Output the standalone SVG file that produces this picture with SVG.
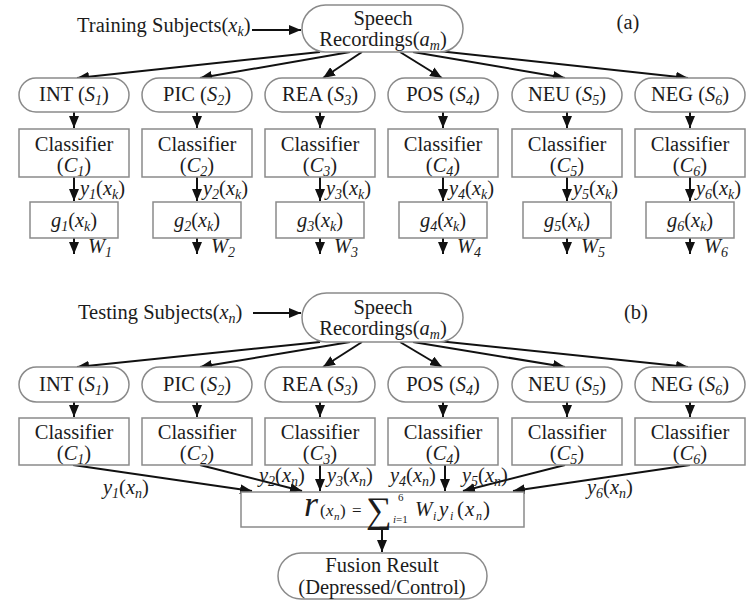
<svg xmlns="http://www.w3.org/2000/svg" width="747" height="601" viewBox="0 0 747 601" font-family="'Liberation Serif', 'Times New Roman', serif">
<defs>
<marker id="ah" markerWidth="12" markerHeight="10" refX="12" refY="5" orient="auto" markerUnits="userSpaceOnUse">
<path d="M0,0 L12,5 L0,10 z" fill="#111"/>
</marker>
<style>
text{font-family:'Liberation Serif','Times New Roman',serif}
.t{font-size:20.5px;fill:#1c1c1c}
.i{font-style:italic}
.s{font-size:14px}
.node{fill:#fff;stroke:#8a8a8a;stroke-width:1.5}
.conn{stroke:#111;stroke-width:2;fill:none;marker-end:url(#ah)}
</style>
</defs>
<rect width="747" height="601" fill="#fff"/>

<g id="connectors">
<path class="conn" d="M252,30 L301,30"/>
<path class="conn" d="M320,52 L77,78"/>
<path class="conn" d="M350,52 L200,78"/>
<path class="conn" d="M362,52 L323,78"/>
<path class="conn" d="M400,52 L442,78"/>
<path class="conn" d="M413,52 L565,78"/>
<path class="conn" d="M438,51 L688,78"/>
<path class="conn" d="M74,112 L74,128"/>
<path class="conn" d="M197,112 L197,128"/>
<path class="conn" d="M320,112 L320,128"/>
<path class="conn" d="M443,112 L443,128"/>
<path class="conn" d="M567,112 L567,128"/>
<path class="conn" d="M690,112 L690,128"/>
<path class="conn" d="M74,177 L74,201"/>
<path class="conn" d="M197,177 L197,201"/>
<path class="conn" d="M320,177 L320,201"/>
<path class="conn" d="M443,177 L443,201"/>
<path class="conn" d="M567,177 L567,201"/>
<path class="conn" d="M690,177 L690,201"/>
<path class="conn" d="M74,238 L74,254"/>
<path class="conn" d="M197,238 L197,254"/>
<path class="conn" d="M320,238 L320,254"/>
<path class="conn" d="M443,238 L443,254"/>
<path class="conn" d="M567,238 L567,254"/>
<path class="conn" d="M690,238 L690,254"/>
<path class="conn" d="M253,313 L301,313"/>
<path class="conn" d="M320,342 L77,367"/>
<path class="conn" d="M350,342 L200,367"/>
<path class="conn" d="M362,342 L323,367"/>
<path class="conn" d="M400,342 L442,367"/>
<path class="conn" d="M413,342 L565,367"/>
<path class="conn" d="M438,341 L688,367"/>
<path class="conn" d="M74,402 L74,417"/>
<path class="conn" d="M197,402 L197,417"/>
<path class="conn" d="M320,402 L320,417"/>
<path class="conn" d="M443,402 L443,417"/>
<path class="conn" d="M567,402 L567,417"/>
<path class="conn" d="M690,402 L690,417"/>
<path class="conn" d="M73,465 L252,491"/>
<path class="conn" d="M200,465 L302,491"/>
<path class="conn" d="M320,465 L320,491"/>
<path class="conn" d="M445,465 L445,491"/>
<path class="conn" d="M565,465 L463,491"/>
<path class="conn" d="M690,465 L513,491"/>
<path class="conn" d="M382,527 L382,552"/>
</g>

<text class="t" x="77" y="32">Training Subjects(<tspan class="i">x</tspan><tspan class="s i" dy="4">k</tspan><tspan dy="-4">)</tspan></text>
<text class="t" x="628" y="29" text-anchor="middle">(a)</text>

<g id="speech-a">
<rect class="node" x="302" y="5" width="161" height="47" rx="23.5"/>
<text class="t" x="383" y="25" text-anchor="middle">Speech</text>
<text class="t" x="383" y="46" text-anchor="middle">Recordings(<tspan class="i">a</tspan><tspan class="s i" dy="4">m</tspan><tspan dy="-4">)</tspan></text>
</g>

<g id="int-a"><rect class="node" x="19" y="78" width="110" height="34" rx="17"/>
<text class="t" x="74" y="101" text-anchor="middle">INT (<tspan class="i">S</tspan><tspan class="s i" dy="4">1</tspan><tspan dy="-4">)</tspan></text></g>
<g id="pic-a"><rect class="node" x="142" y="78" width="110" height="34" rx="17"/>
<text class="t" x="197" y="101" text-anchor="middle">PIC (<tspan class="i">S</tspan><tspan class="s i" dy="4">2</tspan><tspan dy="-4">)</tspan></text></g>
<g id="rea-a"><rect class="node" x="265" y="78" width="110" height="34" rx="17"/>
<text class="t" x="320" y="101" text-anchor="middle">REA (<tspan class="i">S</tspan><tspan class="s i" dy="4">3</tspan><tspan dy="-4">)</tspan></text></g>
<g id="pos-a"><rect class="node" x="388" y="78" width="110" height="34" rx="17"/>
<text class="t" x="443" y="101" text-anchor="middle">POS (<tspan class="i">S</tspan><tspan class="s i" dy="4">4</tspan><tspan dy="-4">)</tspan></text></g>
<g id="neu-a"><rect class="node" x="512" y="78" width="110" height="34" rx="17"/>
<text class="t" x="567" y="101" text-anchor="middle">NEU (<tspan class="i">S</tspan><tspan class="s i" dy="4">5</tspan><tspan dy="-4">)</tspan></text></g>
<g id="neg-a"><rect class="node" x="635" y="78" width="110" height="34" rx="17"/>
<text class="t" x="690" y="101" text-anchor="middle">NEG (<tspan class="i">S</tspan><tspan class="s i" dy="4">6</tspan><tspan dy="-4">)</tspan></text></g>

<g id="c1-a"><rect class="node" x="19" y="129" width="110" height="48"/>
<text class="t" x="74" y="151" text-anchor="middle">Classifier</text>
<text class="t" x="74" y="172" text-anchor="middle">(<tspan class="i">C</tspan><tspan class="s i" dy="4">1</tspan><tspan dy="-4">)</tspan></text></g>
<g id="c2-a"><rect class="node" x="142" y="129" width="110" height="48"/>
<text class="t" x="197" y="151" text-anchor="middle">Classifier</text>
<text class="t" x="197" y="172" text-anchor="middle">(<tspan class="i">C</tspan><tspan class="s i" dy="4">2</tspan><tspan dy="-4">)</tspan></text></g>
<g id="c3-a"><rect class="node" x="265" y="129" width="110" height="48"/>
<text class="t" x="320" y="151" text-anchor="middle">Classifier</text>
<text class="t" x="320" y="172" text-anchor="middle">(<tspan class="i">C</tspan><tspan class="s i" dy="4">3</tspan><tspan dy="-4">)</tspan></text></g>
<g id="c4-a"><rect class="node" x="388" y="129" width="110" height="48"/>
<text class="t" x="443" y="151" text-anchor="middle">Classifier</text>
<text class="t" x="443" y="172" text-anchor="middle">(<tspan class="i">C</tspan><tspan class="s i" dy="4">4</tspan><tspan dy="-4">)</tspan></text></g>
<g id="c5-a"><rect class="node" x="512" y="129" width="110" height="48"/>
<text class="t" x="567" y="151" text-anchor="middle">Classifier</text>
<text class="t" x="567" y="172" text-anchor="middle">(<tspan class="i">C</tspan><tspan class="s i" dy="4">5</tspan><tspan dy="-4">)</tspan></text></g>
<g id="c6-a"><rect class="node" x="635" y="129" width="110" height="48"/>
<text class="t" x="690" y="151" text-anchor="middle">Classifier</text>
<text class="t" x="690" y="172" text-anchor="middle">(<tspan class="i">C</tspan><tspan class="s i" dy="4">6</tspan><tspan dy="-4">)</tspan></text></g>

<g id="ylabels-a">
<text class="t" x="80" y="195"><tspan class="i">y</tspan><tspan class="s i" dy="4">1</tspan><tspan dy="-4">(</tspan><tspan class="i">x</tspan><tspan class="s i" dy="4">k</tspan><tspan dy="-4">)</tspan></text>
<text class="t" x="203" y="195"><tspan class="i">y</tspan><tspan class="s i" dy="4">2</tspan><tspan dy="-4">(</tspan><tspan class="i">x</tspan><tspan class="s i" dy="4">k</tspan><tspan dy="-4">)</tspan></text>
<text class="t" x="326" y="195"><tspan class="i">y</tspan><tspan class="s i" dy="4">3</tspan><tspan dy="-4">(</tspan><tspan class="i">x</tspan><tspan class="s i" dy="4">k</tspan><tspan dy="-4">)</tspan></text>
<text class="t" x="449" y="195"><tspan class="i">y</tspan><tspan class="s i" dy="4">4</tspan><tspan dy="-4">(</tspan><tspan class="i">x</tspan><tspan class="s i" dy="4">k</tspan><tspan dy="-4">)</tspan></text>
<text class="t" x="573" y="195"><tspan class="i">y</tspan><tspan class="s i" dy="4">5</tspan><tspan dy="-4">(</tspan><tspan class="i">x</tspan><tspan class="s i" dy="4">k</tspan><tspan dy="-4">)</tspan></text>
<text class="t" x="696" y="195"><tspan class="i">y</tspan><tspan class="s i" dy="4">6</tspan><tspan dy="-4">(</tspan><tspan class="i">x</tspan><tspan class="s i" dy="4">k</tspan><tspan dy="-4">)</tspan></text>
</g>

<g id="g1"><rect class="node" x="30" y="202" width="88" height="36"/>
<text class="t" x="74" y="227" text-anchor="middle"><tspan class="i">g</tspan><tspan class="s i" dy="4">1</tspan><tspan dy="-4">(</tspan><tspan class="i">x</tspan><tspan class="s i" dy="4">k</tspan><tspan dy="-4">)</tspan></text></g>
<g id="g2"><rect class="node" x="153" y="202" width="88" height="36"/>
<text class="t" x="197" y="227" text-anchor="middle"><tspan class="i">g</tspan><tspan class="s i" dy="4">2</tspan><tspan dy="-4">(</tspan><tspan class="i">x</tspan><tspan class="s i" dy="4">k</tspan><tspan dy="-4">)</tspan></text></g>
<g id="g3"><rect class="node" x="276" y="202" width="88" height="36"/>
<text class="t" x="320" y="227" text-anchor="middle"><tspan class="i">g</tspan><tspan class="s i" dy="4">3</tspan><tspan dy="-4">(</tspan><tspan class="i">x</tspan><tspan class="s i" dy="4">k</tspan><tspan dy="-4">)</tspan></text></g>
<g id="g4"><rect class="node" x="399" y="202" width="88" height="36"/>
<text class="t" x="443" y="227" text-anchor="middle"><tspan class="i">g</tspan><tspan class="s i" dy="4">4</tspan><tspan dy="-4">(</tspan><tspan class="i">x</tspan><tspan class="s i" dy="4">k</tspan><tspan dy="-4">)</tspan></text></g>
<g id="g5"><rect class="node" x="523" y="202" width="88" height="36"/>
<text class="t" x="567" y="227" text-anchor="middle"><tspan class="i">g</tspan><tspan class="s i" dy="4">5</tspan><tspan dy="-4">(</tspan><tspan class="i">x</tspan><tspan class="s i" dy="4">k</tspan><tspan dy="-4">)</tspan></text></g>
<g id="g6"><rect class="node" x="646" y="202" width="88" height="36"/>
<text class="t" x="690" y="227" text-anchor="middle"><tspan class="i">g</tspan><tspan class="s i" dy="4">6</tspan><tspan dy="-4">(</tspan><tspan class="i">x</tspan><tspan class="s i" dy="4">k</tspan><tspan dy="-4">)</tspan></text></g>

<g id="wlabels">
<text class="t i" x="88" y="253">W<tspan class="s" dy="4">1</tspan></text>
<text class="t i" x="211" y="253">W<tspan class="s" dy="4">2</tspan></text>
<text class="t i" x="334" y="253">W<tspan class="s" dy="4">3</tspan></text>
<text class="t i" x="457" y="253">W<tspan class="s" dy="4">4</tspan></text>
<text class="t i" x="581" y="253">W<tspan class="s" dy="4">5</tspan></text>
<text class="t i" x="704" y="253">W<tspan class="s" dy="4">6</tspan></text>
</g>

<text class="t" x="78" y="319">Testing Subjects(<tspan class="i">x</tspan><tspan class="s i" dy="4">n</tspan><tspan dy="-4">)</tspan></text>
<text class="t" x="636" y="319" text-anchor="middle">(b)</text>

<g id="speech-b">
<rect class="node" x="302" y="293" width="161" height="49" rx="24.5"/>
<text class="t" x="383" y="314" text-anchor="middle">Speech</text>
<text class="t" x="383" y="335" text-anchor="middle">Recordings(<tspan class="i">a</tspan><tspan class="s i" dy="4">m</tspan><tspan dy="-4">)</tspan></text>
</g>

<g id="int-b"><rect class="node" x="19" y="367" width="110" height="35" rx="17.5"/>
<text class="t" x="74" y="391" text-anchor="middle">INT (<tspan class="i">S</tspan><tspan class="s i" dy="4">1</tspan><tspan dy="-4">)</tspan></text></g>
<g id="pic-b"><rect class="node" x="142" y="367" width="110" height="35" rx="17.5"/>
<text class="t" x="197" y="391" text-anchor="middle">PIC (<tspan class="i">S</tspan><tspan class="s i" dy="4">2</tspan><tspan dy="-4">)</tspan></text></g>
<g id="rea-b"><rect class="node" x="265" y="367" width="110" height="35" rx="17.5"/>
<text class="t" x="320" y="391" text-anchor="middle">REA (<tspan class="i">S</tspan><tspan class="s i" dy="4">3</tspan><tspan dy="-4">)</tspan></text></g>
<g id="pos-b"><rect class="node" x="388" y="367" width="110" height="35" rx="17.5"/>
<text class="t" x="443" y="391" text-anchor="middle">POS (<tspan class="i">S</tspan><tspan class="s i" dy="4">4</tspan><tspan dy="-4">)</tspan></text></g>
<g id="neu-b"><rect class="node" x="512" y="367" width="110" height="35" rx="17.5"/>
<text class="t" x="567" y="391" text-anchor="middle">NEU (<tspan class="i">S</tspan><tspan class="s i" dy="4">5</tspan><tspan dy="-4">)</tspan></text></g>
<g id="neg-b"><rect class="node" x="635" y="367" width="110" height="35" rx="17.5"/>
<text class="t" x="690" y="391" text-anchor="middle">NEG (<tspan class="i">S</tspan><tspan class="s i" dy="4">6</tspan><tspan dy="-4">)</tspan></text></g>

<g id="c1-b"><rect class="node" x="19" y="418" width="110" height="47"/>
<text class="t" x="74" y="439" text-anchor="middle">Classifier</text>
<text class="t" x="74" y="460" text-anchor="middle">(<tspan class="i">C</tspan><tspan class="s i" dy="4">1</tspan><tspan dy="-4">)</tspan></text></g>
<g id="c2-b"><rect class="node" x="142" y="418" width="110" height="47"/>
<text class="t" x="197" y="439" text-anchor="middle">Classifier</text>
<text class="t" x="197" y="460" text-anchor="middle">(<tspan class="i">C</tspan><tspan class="s i" dy="4">2</tspan><tspan dy="-4">)</tspan></text></g>
<g id="c3-b"><rect class="node" x="265" y="418" width="110" height="47"/>
<text class="t" x="320" y="439" text-anchor="middle">Classifier</text>
<text class="t" x="320" y="460" text-anchor="middle">(<tspan class="i">C</tspan><tspan class="s i" dy="4">3</tspan><tspan dy="-4">)</tspan></text></g>
<g id="c4-b"><rect class="node" x="388" y="418" width="110" height="47"/>
<text class="t" x="443" y="439" text-anchor="middle">Classifier</text>
<text class="t" x="443" y="460" text-anchor="middle">(<tspan class="i">C</tspan><tspan class="s i" dy="4">4</tspan><tspan dy="-4">)</tspan></text></g>
<g id="c5-b"><rect class="node" x="512" y="418" width="110" height="47"/>
<text class="t" x="567" y="439" text-anchor="middle">Classifier</text>
<text class="t" x="567" y="460" text-anchor="middle">(<tspan class="i">C</tspan><tspan class="s i" dy="4">5</tspan><tspan dy="-4">)</tspan></text></g>
<g id="c6-b"><rect class="node" x="635" y="418" width="110" height="47"/>
<text class="t" x="690" y="439" text-anchor="middle">Classifier</text>
<text class="t" x="690" y="460" text-anchor="middle">(<tspan class="i">C</tspan><tspan class="s i" dy="4">6</tspan><tspan dy="-4">)</tspan></text></g>

<g id="ylabels-b">
<text class="t" x="103" y="494"><tspan class="i">y</tspan><tspan class="s i" dy="4">1</tspan><tspan dy="-4">(</tspan><tspan class="i">x</tspan><tspan class="s i" dy="4">n</tspan><tspan dy="-4">)</tspan></text>
<text class="t" x="259" y="482"><tspan class="i">y</tspan><tspan class="s i" dy="4">2</tspan><tspan dy="-4">(</tspan><tspan class="i">x</tspan><tspan class="s i" dy="4">n</tspan><tspan dy="-4">)</tspan></text>
<text class="t" x="327" y="482"><tspan class="i">y</tspan><tspan class="s i" dy="4">3</tspan><tspan dy="-4">(</tspan><tspan class="i">x</tspan><tspan class="s i" dy="4">n</tspan><tspan dy="-4">)</tspan></text>
<text class="t" x="390" y="482"><tspan class="i">y</tspan><tspan class="s i" dy="4">4</tspan><tspan dy="-4">(</tspan><tspan class="i">x</tspan><tspan class="s i" dy="4">n</tspan><tspan dy="-4">)</tspan></text>
<text class="t" x="462" y="482"><tspan class="i">y</tspan><tspan class="s i" dy="4">5</tspan><tspan dy="-4">(</tspan><tspan class="i">x</tspan><tspan class="s i" dy="4">n</tspan><tspan dy="-4">)</tspan></text>
<text class="t" x="587" y="494"><tspan class="i">y</tspan><tspan class="s i" dy="4">6</tspan><tspan dy="-4">(</tspan><tspan class="i">x</tspan><tspan class="s i" dy="4">n</tspan><tspan dy="-4">)</tspan></text>
</g>

<g id="fusion-sum">
<rect class="node" x="241" y="492" width="283" height="35"/>
<text class="t i" x="304" y="516" style="font-size:36px">r</text>
<text class="t" y="516" style="font-size:17px"><tspan x="320">(</tspan><tspan class="i" x="326">x</tspan><tspan class="i" style="font-size:11px" x="334" dy="4">n</tspan><tspan x="340" dy="-4">)</tspan><tspan x="352">=</tspan></text>
<text class="t" x="366" y="522" style="font-size:36px">∑</text>
<text class="t" x="398" y="501" style="font-size:11px">6</text>
<text class="t" x="393" y="523" style="font-size:11px"><tspan class="i">i</tspan>=1</text>
<text class="t" y="516" style="font-size:21px"><tspan class="i" x="415">W</tspan><tspan class="i" style="font-size:12px" x="433" dy="4">i</tspan><tspan class="i" x="439" dy="-4">y</tspan><tspan class="i" style="font-size:12px" x="450" dy="4">i</tspan><tspan x="457" dy="-4">(</tspan><tspan class="i" x="465">x</tspan><tspan class="i" style="font-size:12px" x="476" dy="4">n</tspan><tspan x="483" dy="-4">)</tspan></text>
</g>

<g id="fusion-result">
<rect class="node" x="278" y="553" width="209" height="46" rx="23"/>
<text class="t" x="382" y="572" text-anchor="middle">Fusion Result</text>
<text class="t" x="382" y="594" text-anchor="middle">(Depressed/Control)</text>
</g>
</svg>
